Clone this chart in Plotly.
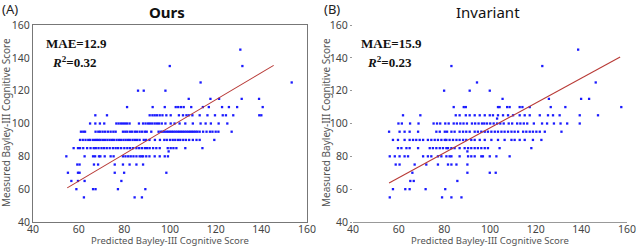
import plotly.graph_objects as go

# ---------------- data ----------------
# Panel A ("Ours"): measured score levels -> predicted scores
ours_rows = {
    145: [130.8],
    135: [99.9, 131.7],
    125: [113.4, 153.3],
    120: [86.0, 88.5, 98.0],
    115: [108.2, 117.7, 121.5, 131.4, 139.0],
    110: [81.2, 92.4, 97.7, 102.5, 103.6, 104.8, 106.0, 109.3, 114.4, 117.0, 122.8, 125.8, 129.4, 140.6],
    105: [67.3, 72.4, 91.1, 92.3, 93.3, 94.3, 95.5, 96.7, 98.4, 100.3, 103.9, 105.7, 107.2, 108.2,
          109.8, 113.0, 116.4, 119.7, 123.1, 124.5, 127.7, 139.1, 140.0],
    100: [65.0, 67.3, 69.3, 71.2, 76.5, 77.5, 78.5, 79.4, 80.3, 81.2, 82.3, 86.4, 88.2, 89.3, 90.4,
          91.2, 92.2, 93.3, 94.3, 95.2, 96.4, 98.0, 100.3, 102.0, 104.2, 106.7, 110.0, 113.4, 115.6,
          117.9, 121.3, 125.1],
    95: [61.0, 62.0, 62.8, 67.4, 68.6, 69.4, 70.5, 71.6, 72.8, 74.0, 75.2, 76.2, 79.4, 80.4, 81.3,
         82.5, 83.4, 84.6, 85.5, 86.7, 87.8, 89.0, 89.8, 91.8, 95.0, 96.0, 96.8, 97.6, 98.4, 99.2,
         100.0, 100.8, 101.6, 102.4, 103.2, 104.0, 104.8, 105.6, 106.4, 107.2, 108.0, 108.8, 109.6,
         110.4, 111.2, 112.0, 113.0, 114.5, 116.0, 117.5, 118.6, 120.0, 121.2, 127.0],
    90: [60.6, 61.8, 63.0, 64.2, 65.0, 66.2, 67.2, 68.0, 68.8, 69.6, 70.6, 71.6, 72.6, 73.6, 74.6,
         75.4, 76.6, 77.6, 78.5, 79.6, 80.6, 81.6, 82.4, 83.6, 84.6, 85.6, 86.7, 88.5, 89.5, 91.0,
         93.4, 95.6, 97.5, 98.6, 100.0, 101.2, 102.3, 103.5, 104.5, 105.8, 107.0, 108.4, 110.0,
         111.6, 113.0, 119.4],
    85: [57.8, 59.7, 60.6, 62.0, 63.7, 65.2, 66.6, 67.5, 68.7, 70.0, 71.1, 72.3, 73.6, 75.0, 76.2,
         77.3, 78.6, 80.0, 81.3, 82.5, 83.8, 85.3, 86.5, 87.7, 89.0, 90.0, 91.1, 92.6, 94.0, 95.5,
         99.0, 100.3, 101.5, 102.8, 106.7, 114.2],
    83: [99.4],
    80: [54.6, 62.6, 66.3, 67.2, 68.9, 69.5, 71.4, 74.0, 75.3, 79.4, 80.5, 81.7, 82.8, 84.0, 85.3,
         86.7, 87.5, 88.2, 89.6, 91.0, 93.3, 95.5, 97.7, 99.1],
    75: [59.4, 60.4, 66.7, 68.5, 75.8, 79.4, 82.3, 85.3, 88.2],
    70: [55.3, 59.7, 60.4, 75.8, 79.9, 98.4],
    65: [56.8, 59.7, 62.6, 78.7],
    60: [59.0, 66.3, 67.4, 77.2, 89.2],
    55: [62.3, 84.5, 87.7],
}

# Panel B ("Invariant")
inv_rows = {
    145: [138.6],
    135: [83.1, 122.9],
    125: [94.3, 146.3],
    120: [79.9, 91.1, 99.9],
    115: [105.5, 125.8, 139.9, 143.4],
    110: [84.1, 88.5, 89.4, 103.5, 104.2, 107.5, 108.6, 113.0, 114.2, 117.4, 126.6, 133.0, 157.5],
    105: [61.9, 69.5, 85.0, 86.7, 89.4, 91.1, 93.3, 95.5, 97.7, 99.9, 101.3, 103.5, 105.7, 107.9,
          110.1, 113.0, 115.2, 117.4, 121.8, 125.4, 127.6, 130.5, 139.3, 147.3],
    103: [103.1],
    100: [59.9, 61.4, 65.0, 68.7, 75.3, 76.8, 78.2, 80.4, 81.9, 84.1, 85.5, 87.0, 88.4, 89.9, 92.1,
          93.5, 95.0, 96.5, 97.5, 98.7, 100.1, 101.6, 103.1, 104.5, 106.0, 108.2, 109.7, 111.9,
          113.3, 114.8, 116.3, 119.2, 122.8, 125.0, 128.0, 130.9, 133.8, 139.3],
    95: [55.8, 60.4, 62.6, 64.8, 68.5, 76.5, 78.0, 80.2, 81.2, 83.1, 84.5, 86.7, 88.2, 89.6, 91.1,
         93.3, 94.7, 96.2, 97.7, 99.1, 100.6, 102.1, 103.5, 105.0, 106.4, 107.9, 109.4, 110.8,
         112.3, 114.5, 115.9, 117.4, 118.8, 120.3, 121.8, 124.0, 131.3],
    90: [57.5, 59.7, 62.6, 64.8, 66.3, 67.7, 69.2, 70.7, 72.8, 74.3, 75.8, 77.2, 78.7, 80.2, 80.9,
         82.3, 83.8, 85.3, 86.7, 88.2, 89.6, 91.8, 93.3, 95.5, 97.7, 100.6, 103.5, 106.4, 109.4,
         110.8, 113.0, 115.2, 118.8, 122.5],
    85: [59.7, 61.2, 63.4, 64.8, 68.5, 73.6, 75.0, 76.5, 78.0, 79.4, 80.9, 81.6, 83.1, 84.5, 86.7,
         88.9, 90.4, 91.8, 93.3, 94.7, 96.2, 97.7, 99.1, 104.2, 118.1],
    83: [90.1],
    80: [56.1, 58.3, 60.4, 62.6, 64.1, 70.7, 72.8, 74.3, 77.2, 78.7, 80.9, 82.3, 83.1, 86.7, 90.4,
         91.8, 93.3, 96.2, 96.9, 99.9, 102.8, 108.6],
    75: [58.7, 60.4, 67.0, 72.1, 77.2, 81.6, 83.1, 85.3, 90.1],
    70: [66.0, 90.1, 99.9, 102.5],
    65: [65.1, 66.6, 85.7],
    60: [57.5, 62.9, 64.8, 71.8, 80.4],
    55: [56.1, 79.0, 83.1, 87.5],
}

# fitted lines (endpoints)
ours_fit_x = [55.0, 145.4]
ours_fit_y = [60.8, 135.4]
inv_fit_x = [55.8, 157.0]
inv_fit_y = [63.8, 140.5]

tick_vals = [40, 60, 80, 100, 120, 140, 160]
x_title = "Predicted Bayley-III Cognitive Score"
y_title = "Measured Bayley-III Cognitive Score"


def flatten(rows):
    xs, ys = [], []
    for yv, xl in rows.items():
        for xv in xl:
            xs.append(xv)
            ys.append(yv)
    return xs, ys


ox, oy = flatten(ours_rows)
ix, iy = flatten(inv_rows)

fig = go.Figure()
mk = dict(symbol="square", size=2.3, color="#1a1aff", line=dict(width=0))
fig.add_trace(go.Scatter(x=ox, y=oy, mode="markers", marker=mk, xaxis="x", yaxis="y"))
fig.add_trace(go.Scatter(x=ours_fit_x, y=ours_fit_y, mode="lines",
                         line=dict(color="#b83a36", width=1.1), xaxis="x", yaxis="y"))
fig.add_trace(go.Scatter(x=ix, y=iy, mode="markers", marker=mk, xaxis="x2", yaxis="y2"))
fig.add_trace(go.Scatter(x=inv_fit_x, y=inv_fit_y, mode="lines",
                         line=dict(color="#b83a36", width=1.1), xaxis="x2", yaxis="y2"))

tickfont = dict(family="Noto Sans", size=10.5, color="#444")

W, H = 640, 246
dA = [33 / W, 307 / W]
dB = [353 / W, 627 / W]
dy = [1 - 222 / H, 1 - 25 / H]

common_x = dict(range=[40, 160], tickvals=tick_vals, tickfont=tickfont, showgrid=False,
                zeroline=False, automargin=False, ticklabelstandoff=-3)
common_y = dict(range=[40, 160], tickvals=tick_vals, tickfont=tickfont, showgrid=False,
                zeroline=False, automargin=False)


def ann(text, x, y, size, family="Noto Sans", color="#111", xanchor="left", angle=0):
    return dict(text=text, x=x / W, y=1 - y / H, xref="paper", yref="paper",
                xanchor=xanchor, yanchor="middle", showarrow=False, textangle=angle,
                font=dict(family=family, size=size, color=color))


fig.update_layout(
    width=W, height=H,
    margin=dict(l=0, r=0, t=0, b=0),
    paper_bgcolor="white", plot_bgcolor="white",
    showlegend=False,
    xaxis=dict(domain=dA, anchor="y", showline=True, linecolor="#777", linewidth=1,
               mirror=True, ticks="", **common_x),
    yaxis=dict(domain=dy, anchor="x", showline=True, linecolor="#777", linewidth=1,
               mirror=True, ticks="", **common_y),
    xaxis2=dict(domain=dB, anchor="y2", showline=True, linecolor="#999", linewidth=1,
                ticks="", **common_x),
    yaxis2=dict(domain=dy, anchor="x2", showline=False, ticks="outside", ticklen=2,
                tickcolor="#999", **common_y),
    annotations=[
        ann("(A)", 0, 9, 13, color="#222"),
        ann("<b>Ours</b>", 167, 12, 15, xanchor="center"),
        ann("(B)", 322, 9, 13, color="#222"),
        ann("Invariant", 488, 12, 15, xanchor="center"),
        ann(x_title, 170, 240.5, 9.5, color="#555", xanchor="center"),
        ann(x_title, 490, 240.5, 9.5, color="#555", xanchor="center"),
        ann(y_title, 6, 123, 10, color="#555", xanchor="center", angle=-90),
        ann(y_title, 326, 123, 10, color="#555", xanchor="center", angle=-90),
        ann("<b>MAE=12.9</b>", 44, 43, 13, family="Liberation Serif"),
        ann("<b><i>R</i><sup>2</sup>=0.32</b>", 50, 62, 13, family="Liberation Serif"),
        ann("<b>MAE=15.9</b>", 359, 43, 13, family="Liberation Serif"),
        ann("<b><i>R</i><sup>2</sup>=0.23</b>", 365, 62, 13, family="Liberation Serif"),
    ],
)

fig.write_html("out.html", config={"displayModeBar": False},
               post_script="document.body.style.margin='0';document.body.style.overflow='hidden';")
